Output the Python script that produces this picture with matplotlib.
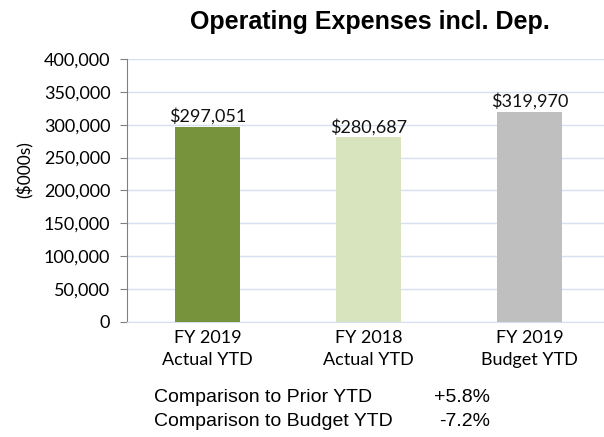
import matplotlib.pyplot as plt
from matplotlib.ticker import FuncFormatter

categories = ['FY 2019\nActual YTD', 'FY 2018\nActual YTD', 'FY 2019\nBudget YTD']
values = [297051, 280687, 319970]
colors = ['#77933C', '#D7E4BD', '#BFBFBF']
comparisons = ['Comparison to Prior YTD', 'Comparison to Budget YTD']
comparison_values = ['+5.8%', '-7.2%']

W, H = 604, 437
fig = plt.figure(figsize=(W / 100, H / 100), dpi=100)
ax = fig.add_axes([127 / W, 1 - 322 / H, (604 - 127) / W, (322 - 59) / H])

x = list(range(len(categories)))
ax.bar(x, values, width=0.404, color=colors, zorder=3)
for xi, v in zip(x, values):
    ax.text(xi, v + 3500, f'${v:,}', ha='center', va='bottom',
            fontsize=13, family='Lato', color='#111111')

ax.set_xlim(-0.5, 2.5 - 6 / 161)
ax.set_ylim(0, 400000)
ax.set_yticks(range(0, 400001, 50000))
ax.yaxis.set_major_formatter(FuncFormatter(lambda v, p: f'{int(v):,}'))
ax.yaxis.grid(True, color='#D6E0F0', linewidth=1, zorder=0)
ax.set_xticks(x)
ax.set_xticklabels(categories, fontsize=13, family='Lato', linespacing=1.45)
ax.tick_params(axis='x', length=0, pad=6)
ax.tick_params(axis='y', length=5, color='#808080', labelsize=13, pad=7)
for lbl in ax.get_yticklabels():
    lbl.set_family('Lato')

for s in ['top', 'right']:
    ax.spines[s].set_visible(False)
ax.spines['left'].set_color('#808080')
ax.spines['bottom'].set_color('#D6E0F0')

ax.set_ylabel('($000s)', fontsize=12.5, family='Lato')
ax.yaxis.set_label_coords(-0.195, 0.58)

fig.text(370 / W, 1 - 22 / H, 'Operating Expenses incl. Dep.', ha='center', va='center',
         fontsize=18, fontweight='bold', family='Liberation Sans')

for i, (name, val) in enumerate(zip(comparisons, comparison_values)):
    y = 1 - (398 + i * 23) / H
    fig.text(154 / W, y, name, ha='left', va='center', fontsize=14, family='Liberation Sans')
    fig.text(490 / W, y, val, ha='right', va='center', fontsize=14, family='Liberation Sans')

fig.savefig('out.png', dpi=100)
